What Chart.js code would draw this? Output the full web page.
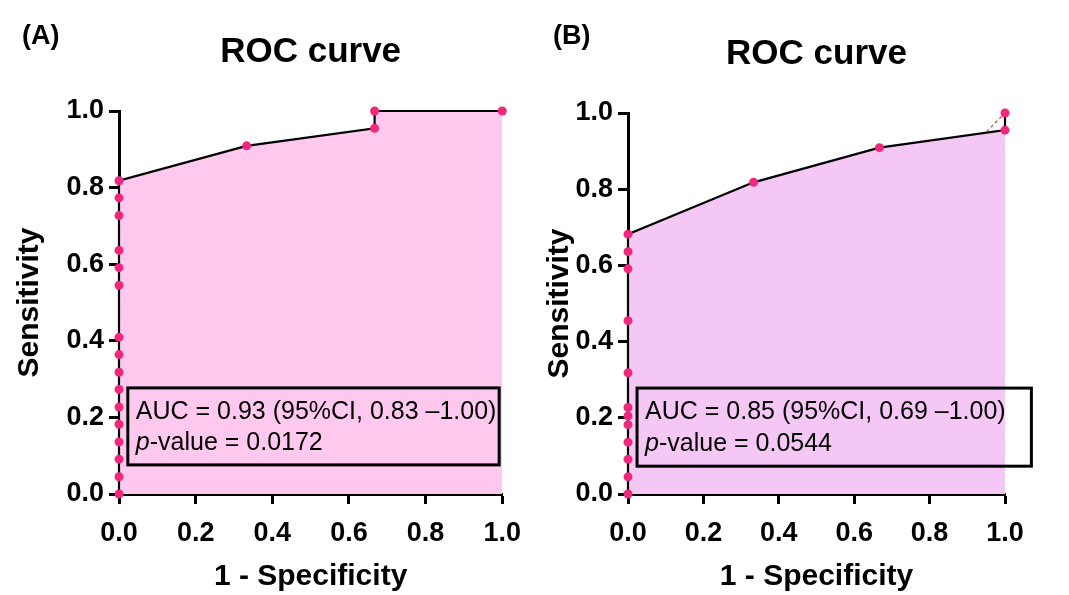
<!DOCTYPE html>
<html>
<head>
<meta charset="utf-8">
<script src="https://cdn.jsdelivr.net/npm/chart.js@4.4.1/dist/chart.umd.min.js"></script>
<style>
  body { margin: 0; background: #fff; font-family: "Liberation Sans", Arial, sans-serif; }
  .panel { position: absolute; top: 0; height: 595px; }
  .tag { position: absolute; top: 20px; font-weight: bold; font-size: 27px; color: #000; }
</style>
</head>
<body>
<div class="panel" style="left:0;width:534px"><canvas id="rocA"></canvas></div>
<div class="panel" style="left:534px;width:535px"><canvas id="rocB"></canvas></div>
<div class="tag" style="left:22px">(A)</div>
<div class="tag" style="left:553px">(B)</div>
<script>
'use strict'

// panel A: 1 - specificity / sensitivity
const fprA = [0, 0, 0, 0, 0, 0, 0, 0, 0, 0, 0, 0, 0, 0, 0, 0, 0.333, 0.667, 0.667, 1.0]
const tprA = [0, 0.045, 0.091, 0.136, 0.182, 0.227, 0.273, 0.318, 0.364, 0.409,
              0.545, 0.591, 0.636, 0.727, 0.773, 0.818, 0.909, 0.955, 1.0, 1.0]

// panel B
const fprB = [0, 0, 0, 0, 0, 0, 0, 0, 0, 0, 0, 0, 0.333, 0.667, 1.0, 1.0]
const tprB = [0, 0.045, 0.091, 0.136, 0.182, 0.205, 0.227, 0.318, 0.455, 0.591,
              0.636, 0.682, 0.818, 0.909, 0.955, 1.0]

// reference diagonal
const chanceX = [0, 1]
const chanceY = [0, 1]

const tickStep = 0.2

const aucTextA = 'AUC = 0.93 (95%CI, 0.83 \u20131.00)'
const pValA = '0.0172'
const aucTextB = 'AUC = 0.85 (95%CI, 0.69 \u20131.00)'
const pValB = '0.0544'

Chart.defaults.font.family = '"Liberation Sans", Arial, sans-serif'
Chart.defaults.color = '#000'

const toPts = (xs, ys) => xs.map((v, i) => ({ x: v, y: ys[i] }))

// box with AUC and p-value, placed in data units
const aucBox = {
  id: 'aucBox',
  afterDatasetsDraw(chart, args, o) {
    const { ctx, scales: { x, y } } = chart
    const l = x.getPixelForValue(o.x0), r = x.getPixelForValue(o.x1)
    const t = y.getPixelForValue(o.y1), b = y.getPixelForValue(o.y0)
    const h = b - t
    ctx.save()
    ctx.lineWidth = 3
    ctx.strokeStyle = '#000'
    ctx.strokeRect(l, t, r - l, h)
    ctx.fillStyle = '#000'
    ctx.textBaseline = 'middle'
    ctx.font = '25px "Liberation Sans", Arial, sans-serif'
    ctx.fillText(o.auc, l + 8, t + h * 0.31)
    ctx.font = 'italic 25px "Liberation Sans", Arial, sans-serif'
    ctx.fillText('p', l + 8, t + h * 0.72)
    const w = ctx.measureText('p').width
    ctx.font = '25px "Liberation Sans", Arial, sans-serif'
    ctx.fillText('-value = ' + o.p, l + 8 + w, t + h * 0.72)
    ctx.restore()
  }
}

function rocChart(id, fpr, tpr, fillColor, cfg) {
  const ctx = document.getElementById(id).getContext('2d')
  return new Chart(ctx, {
    type: 'line',
    data: {
      datasets: [{
        data: toPts(fpr, tpr),
        borderColor: '#000',
        borderWidth: 2.2,
        backgroundColor: fillColor,
        fill: 'origin',
        tension: 0,
        pointRadius: 4.5,
        pointBackgroundColor: '#F0287D',
        pointBorderWidth: 0,
        clip: false,
        order: 0
      }, {
        data: toPts(chanceX, chanceY),
        borderColor: 'rgba(210,60,60,0.9)',
        borderWidth: 1.3,
        borderDash: [3, 3],
        pointRadius: 0,
        fill: false,
        order: 1
      }]
    },
    plugins: [aucBox],
    options: {
      responsive: true,
      maintainAspectRatio: false,
      animation: false,
      layout: { padding: { left: 0, right: cfg.padRight, top: 0, bottom: 0 } },
      plugins: {
        legend: { display: false },
        tooltip: { enabled: false },
        title: {
          display: true,
          text: 'ROC curve',
          fullSize: false,
          color: '#000',
          font: { size: 35, weight: 'bold' },
          padding: { top: cfg.titleTop, bottom: 38 }
        },
        aucBox: cfg.box
      },
      scales: {
        x: {
          type: 'linear',
          min: 0,
          max: 1,
          ticks: {
            stepSize: tickStep,
            color: '#000',
            font: { size: 27, weight: 'bold' },
            padding: 13,
            maxRotation: 0,
            callback: v => v.toFixed(1)
          },
          grid: { display: true, drawOnChartArea: false, drawTicks: true, tickLength: 10, tickWidth: 3, tickColor: '#000' },
          border: { display: true, color: '#000', width: 3 },
          title: { display: true, text: '1 - Specificity', color: '#000', font: { size: 30, weight: 'bold' }, padding: { top: 0, bottom: 0 } },
          afterFit: s => { s.height = 101 }
        },
        y: {
          type: 'linear',
          min: 0,
          max: 1,
          ticks: {
            stepSize: tickStep,
            color: '#000',
            font: { size: 27, weight: 'bold' },
            padding: 5,
            callback: v => v.toFixed(1)
          },
          grid: { display: true, drawOnChartArea: false, drawTicks: true, tickLength: 10, tickWidth: 3, tickColor: '#000' },
          border: { display: true, color: '#000', width: 3 },
          title: { display: true, text: 'Sensitivity', color: '#000', font: { size: 30, weight: 'bold' }, padding: { top: cfg.yTitlePad, bottom: 0 } },
          afterFit: s => { s.width = cfg.yWidth }
        }
      }
    }
  })
}

rocChart('rocA', fprA, tprA, '#FFC8EF', {
  padRight: 31, titleTop: 31, yWidth: 119, yTitlePad: 12,
  box: { x0: 0.023, x1: 0.992, y0: 0.076, y1: 0.277, auc: aucTextA, p: pValA }
})

rocChart('rocB', fprB, tprB, '#F5C7F5', {
  padRight: 64, titleTop: 33, yWidth: 94, yTitlePad: 8,
  box: { x0: 0.024, x1: 1.07, y0: 0.073, y1: 0.278, auc: aucTextB, p: pValB }
})
</script>
</body>
</html>
